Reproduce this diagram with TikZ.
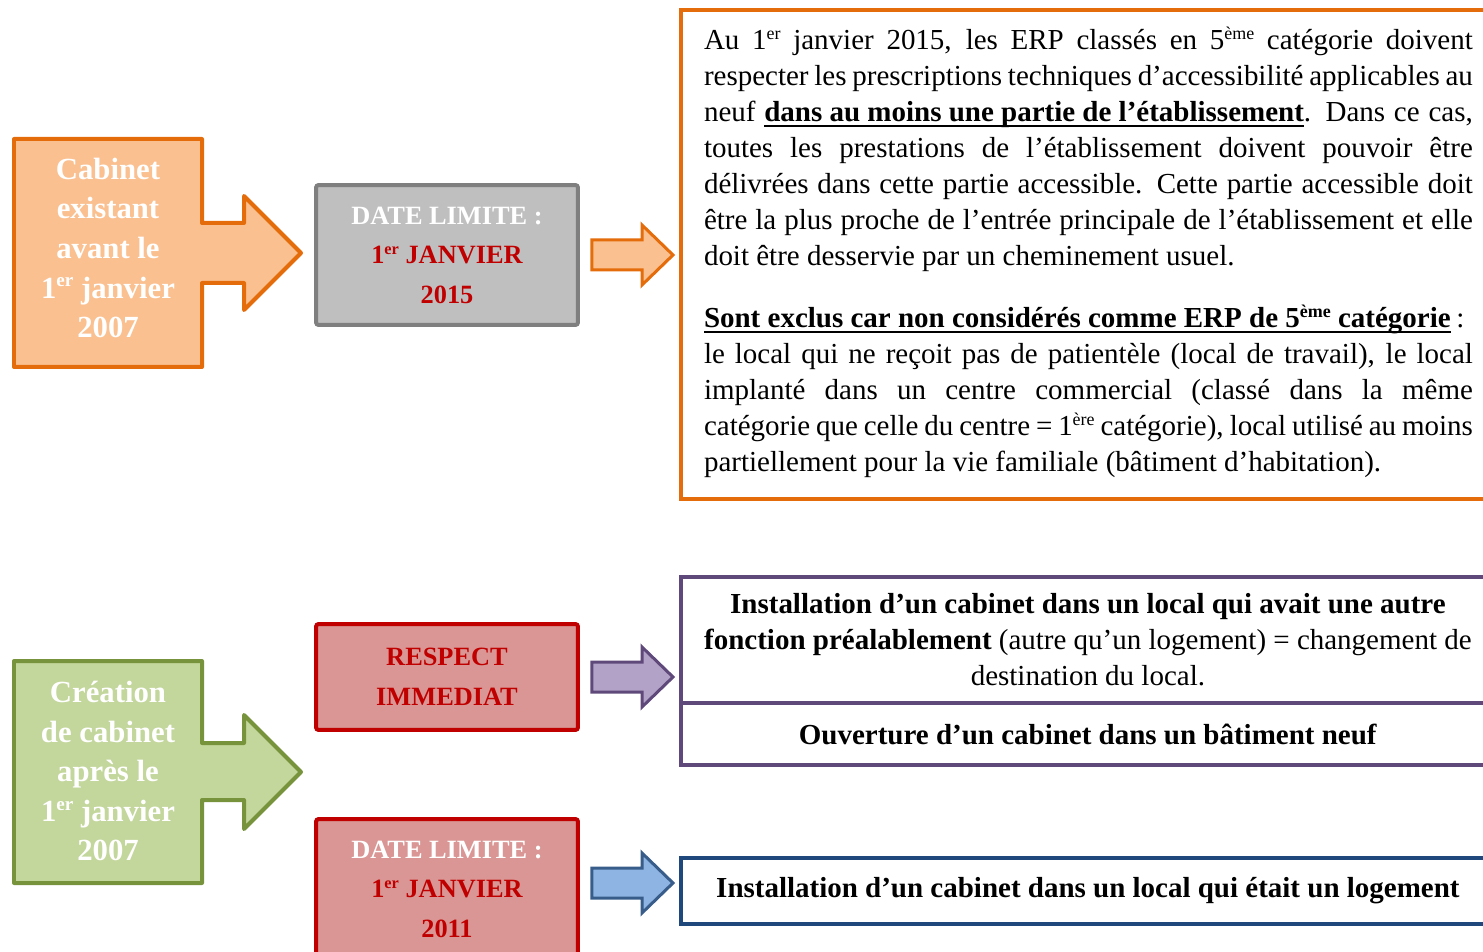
\documentclass[tikz,border=0pt]{standalone}
\usepackage{fontspec}
\setmainfont{Liberation Serif}
\usetikzlibrary{calc,positioning}

\definecolor{orgEdge}{HTML}{E46C0A}
\definecolor{orgFill}{HTML}{FAC090}
\definecolor{grayFill}{HTML}{BFBFBF}
\definecolor{grayEdge}{HTML}{7F7F7F}
\definecolor{darkRed}{HTML}{C00000}
\definecolor{redFill}{HTML}{D99694}
\definecolor{grnFill}{HTML}{C3D69B}
\definecolor{grnEdge}{HTML}{77933C}
\definecolor{purFill}{HTML}{B3A2C7}
\definecolor{purEdge}{HTML}{5F497A}
\definecolor{bluFill}{HTML}{8EB4E3}
\definecolor{bluEdge}{HTML}{385D8A}
\definecolor{navyEdge}{HTML}{1F497D}

\newlength\bodywd
\setlength\bodywd{15.38cm}
\newcommand{\normsp}{\spaceskip=0pt\xspaceskip=0pt\relax}
\newcommand{\fixsp}{\spaceskip=.25em\xspaceskip=.25em\relax}
\newcommand{\jline}[1]{\makebox[\bodywd][s]{\normsp #1}}
\newcommand{\sups}[1]{\raisebox{0.36em}{\scalebox{0.62}{#1}}}
\newcommand{\undl}[1]{\leavevmode\setbox0=\hbox{#1}\rlap{\rule[-3pt]{\wd0}{0.9pt}}\box0}
\def\blockarrow[#1](#2)(#3){\draw[#1] ($(#2)+(0,-15)$) -- ($(#3)+(-31,-15)$) -- ($(#3)+(-31,-30)$) -- (#3) -- ($(#3)+(-31,30)$) -- ($(#3)+(-31,15)$) -- ($(#2)+(0,15)$) -- cycle;}

\begin{document}
\begin{tikzpicture}[x=0.02cm, y=-0.02cm,
    bigshape/.style={line width=0.08cm, line join=round},
    bigtxt/.style={text=white, align=center, font=\bfseries\fontsize{17.5}{22.5}\selectfont},
    capbox/.style={draw, line width=0.08cm, outer sep=0pt, rounded corners=1.5pt, minimum width=5.24cm, minimum height=2.8cm, align=center, font=\bfseries\fontsize{15}{22.5}\selectfont},
    fat/.style={line width=0.06cm, line join=miter},
    txtbox/.style={draw, line width=0.08cm, outer sep=0pt, anchor=north west, text width=15.4cm, inner xsep=0.44cm, align=center, font=\fontsize{16.5}{20.5}\selectfont}]
  %%%%% START %%%%%
  \clip (0,0) rectangle (1483,952);

  % existing practice
  \draw[bigshape, fill=orgFill, draw=orgEdge] (14,139) -| (202,223) -| (244,196) -- (301,253) -- (244,310) |- (202,283) |- (14,367) -- cycle;
  \node[bigtxt] (exist) at (108,248) {Cabinet\\existant\\avant le\\1\sups{er} janvier\\2007};

  \node[capbox, fill=grayFill, draw=grayEdge, text=darkRed] (lim15) at (447,255) {\textcolor{white}{DATE LIMITE :}\\1\sups{er} JANVIER\\2015};

  \node[txtbox, draw=orgEdge, text width=\bodywd, inner xsep=0.46cm, align=left, minimum height=9.78cm] (info) at (681,10) {\normsp
    \jline{Au 1\sups{er} janvier 2015, les ERP classés en 5\sups{ème} catégorie doivent}\\
    \jline{respecter les prescriptions techniques d’accessibilité applicables au}\\
    \jline{neuf \undl{\textbf{dans au moins une partie de l’établissement}}. Dans ce cas,}\\
    \jline{toutes les prestations de l’établissement doivent pouvoir être}\\
    \jline{délivrées dans cette partie accessible. Cette partie accessible doit}\\
    \jline{être la plus proche de l’entrée principale de l’établissement et elle}\\
    doit être desservie par un cheminement usuel.\\[0.52cm]
    \jline{\undl{\textbf{Sont exclus car non considérés comme ERP de 5\sups{ème} catégorie}}\hspace{.2em}:}\\
    \jline{le local qui ne reçoit pas de patientèle (local de travail), le local}\\
    \jline{implanté dans un centre commercial (classé dans la même}\\
    \jline{catégorie que celle du centre = 1\sups{ère} catégorie), local utilisé au moins}\\
    partiellement pour la vie familiale (bâtiment d’habitation).\rule[-0.21cm]{0pt}{1pt}};

  \coordinate (o1) at ($(lim15.east)+(14,0)$);
  \coordinate (o2) at ($(lim15.east -| info.west)+(-8,0)$);
  \blockarrow[fat, fill=orgFill, draw=orgEdge](o1)(o2)

  % new practice
  \draw[bigshape, fill=grnFill, draw=grnEdge] (14,661) -| (202,743) -| (244,715) -- (301,772) -- (244,829) |- (202,800) |- (14,883) -- cycle;
  \node[bigtxt] (create) at (108,771) {Création\\de cabinet\\après le\\1\sups{er} janvier\\2007};

  \node[capbox, fill=redFill, draw=darkRed, text=darkRed, minimum height=2.12cm] (resp) at (447,677) {RESPECT\\IMMEDIAT};
  \node[capbox, fill=redFill, draw=darkRed, text=darkRed] (lim11) at (447,889) {\textcolor{white}{DATE LIMITE :}\\1\sups{er} JANVIER\\2011};

  \node[txtbox, draw=purEdge, minimum height=2.52cm] (purA) at (681,577) {\fixsp\textbf{Installation d’un cabinet dans un local qui avait une autre}\\\textbf{fonction préalablement} (autre qu’un logement) = changement de\\destination du local.};
  \node[txtbox, draw=purEdge, anchor=north, minimum height=1.24cm, below=0pt of purA] (purB) {\fixsp\textbf{Ouverture d’un cabinet dans un bâtiment neuf}};
  \node[txtbox, draw=navyEdge, minimum height=1.32cm] (logt) at (681,858) {\fixsp\textbf{Installation d’un cabinet dans un local qui était un logement}};

  \coordinate (p1) at ($(resp.east)+(14,0)$);
  \coordinate (p2) at ($(resp.east -| purA.west)+(-8,0)$);
  \blockarrow[fat, fill=purFill, draw=purEdge](p1)(p2)

  \coordinate (b1) at ($(lim11.east)+(14,-6)$);
  \coordinate (b2) at ($(lim11.east -| logt.west)+(-8,-6)$);
  \blockarrow[fat, fill=bluFill, draw=bluEdge](b1)(b2)
  %%%%% END %%%%%
\end{tikzpicture}
\end{document}
